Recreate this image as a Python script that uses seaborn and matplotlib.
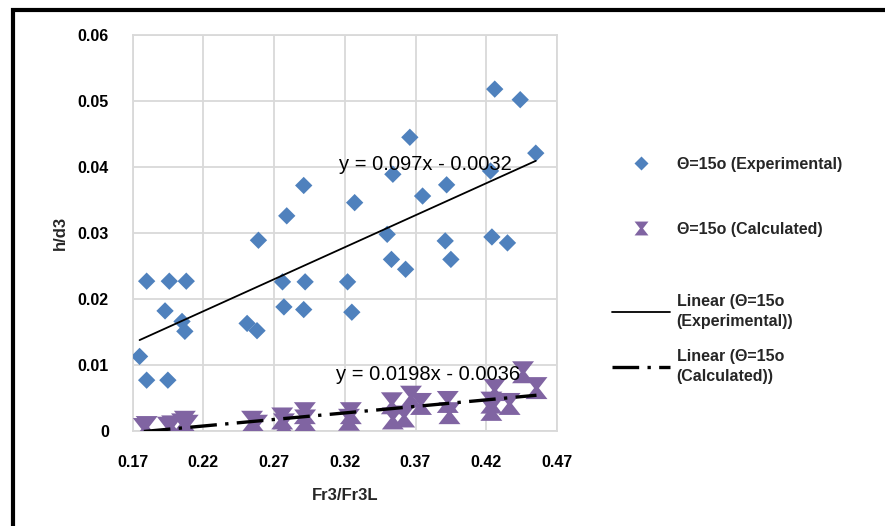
import numpy as np
import pandas as pd
import matplotlib
matplotlib.use("Agg")
import matplotlib.pyplot as plt
import seaborn as sns
from matplotlib.path import Path
from matplotlib.lines import Line2D
from matplotlib.patches import Rectangle

# ---------------- data ----------------
exp_x = [0.175, 0.180, 0.180, 0.193, 0.196, 0.195, 0.205, 0.207, 0.208, 0.251, 0.258, 0.259,
         0.276, 0.277, 0.279, 0.291, 0.292, 0.291, 0.322, 0.325, 0.327, 0.350, 0.353, 0.354,
         0.363, 0.366, 0.375, 0.391, 0.392, 0.395, 0.423, 0.424, 0.426, 0.435, 0.444, 0.455]
exp_y = [0.0113, 0.0227, 0.0077, 0.0182, 0.0227, 0.0077, 0.0166, 0.0151, 0.0227, 0.0163, 0.0152, 0.0289,
         0.0226, 0.0188, 0.0326, 0.0184, 0.0226, 0.0372, 0.0226, 0.0180, 0.0346, 0.0298, 0.0260, 0.0389,
         0.0245, 0.0445, 0.0356, 0.0288, 0.0373, 0.0260, 0.0394, 0.0294, 0.0518, 0.0285, 0.0502, 0.0421]

calc_x = [0.178, 0.180, 0.195, 0.198, 0.205, 0.207, 0.209, 0.2545, 0.258, 0.2758, 0.277, 0.2918,
          0.292, 0.323, 0.3243, 0.3533, 0.354, 0.362, 0.3668, 0.3739, 0.3928, 0.394, 0.4236, 0.4236,
          0.4259, 0.4365, 0.446, 0.4555]
calc_y = [0.0003, 0.0006, 0.0005, 0.0007, 0.0010, 0.0014, 0.0008, 0.0014, 0.0008, 0.0019, 0.0010, 0.0027,
          0.0016, 0.0017, 0.0027, 0.0042, 0.0019, 0.0022, 0.0052, 0.0041, 0.0044, 0.0027, 0.0043, 0.0032,
          0.0062, 0.0041, 0.0089, 0.0065]

exp_slope, exp_intercept = 0.097, -0.0032
calc_slope, calc_intercept = 0.0198, -0.0036

x_ticks = [0.17, 0.22, 0.27, 0.32, 0.37, 0.42, 0.47]
y_ticks = [0, 0.01, 0.02, 0.03, 0.04, 0.05, 0.06]
x_ticklabels = ["0.17", "0.22", "0.27", "0.32", "0.37", "0.42", "0.47"]
y_ticklabels = ["0", "0.01", "0.02", "0.03", "0.04", "0.05", "0.06"]

lbl_exp = "\u0398=15o (Experimental)"
lbl_calc = "\u0398=15o (Calculated)"
lbl_lin_exp = "Linear (\u0398=15o\n(Experimental))"
lbl_lin_calc = "Linear (\u0398=15o\n(Calculated))"
eq_exp = "y = 0.097x - 0.0032"
eq_calc = "y = 0.0198x - 0.0036"

# ---------------- style ----------------
sns.set_theme(style="white")
plt.rcParams['font.family'] = ['Liberation Sans', 'DejaVu Sans']

BLUE = "#4F81BD"
PURPLE = "#8064A2"
DASHDOT = (0, (8, 2.5, 1, 2.5))

W, H = 885, 526
fig = plt.figure(figsize=(W / 100, H / 100), dpi=100)
ax = fig.add_axes([132.5 / W, 1 - 431 / H, (557 - 132.5) / W, (431 - 35) / H])

hourglass = Path([(-1, 1), (1, 1), (0.22, 0), (1, -1), (-1, -1), (-0.22, 0), (-1, 1)],
                 [Path.MOVETO, Path.LINETO, Path.LINETO, Path.LINETO, Path.LINETO, Path.LINETO, Path.CLOSEPOLY])

df_exp = pd.DataFrame({"x": exp_x, "y": exp_y})
df_calc = pd.DataFrame({"x": calc_x, "y": calc_y})

sns.scatterplot(data=df_exp, x="x", y="y", marker="D", s=78, color=BLUE, edgecolor="none",
                ax=ax, zorder=3, legend=False)
sns.scatterplot(data=df_calc, x="x", y="y", marker=hourglass, s=250, color=PURPLE, edgecolor="none",
                ax=ax, zorder=3, legend=False)

# trend lines
xe = np.array([min(exp_x), max(exp_x)])
xc = np.array([min(calc_x), max(calc_x)])
df_le = pd.DataFrame({"x": xe, "y": exp_slope * xe + exp_intercept})
df_lc = pd.DataFrame({"x": xc, "y": calc_slope * xc + calc_intercept})
sns.lineplot(data=df_le, x="x", y="y", color="black", lw=1.3, ax=ax, zorder=4)
sns.lineplot(data=df_lc, x="x", y="y", color="black", lw=2.4, ax=ax, zorder=4,
             dashes=False, linestyle=DASHDOT)

ax.text(425 / W, 1 - 164 / H, eq_exp, transform=fig.transFigure, ha="center", va="center",
        fontsize=14.5, color="black", zorder=5)
ax.text(428 / W, 1 - 375 / H, eq_calc, transform=fig.transFigure, ha="center", va="center",
        fontsize=14.5, color="black", zorder=5)

ax.set_xlim(0.17, 0.47)
ax.set_ylim(0, 0.06)
ax.set_xticks(x_ticks)
ax.set_xticklabels(x_ticklabels, fontsize=11.5, fontweight="bold")
ax.set_yticks(y_ticks)
ax.set_yticklabels(y_ticklabels, fontsize=11.5, fontweight="bold")
ax.tick_params(axis="x", length=0, pad=17, colors="black")
ax.tick_params(axis="y", length=0, pad=17, colors="black")
ax.grid(True, color="#d9d9d9", lw=1.3)
ax.set_axisbelow(True)
for s in ax.spines.values():
    s.set_color("#d9d9d9")
    s.set_linewidth(1.3)

ax.set_xlabel("Fr3/Fr3L", fontsize=12, fontweight="bold", labelpad=13)
ax.set_ylabel("h/d3", fontsize=12, fontweight="bold", labelpad=7)

# legends (markers, then trend lines)
prop = {"weight": "bold", "size": 11.5}
handles1 = [
    Line2D([], [], marker="D", ls="none", color=BLUE, markersize=7.5, markeredgecolor="none"),
    Line2D([], [], marker=hourglass, ls="none", color=PURPLE, markersize=10, markeredgecolor="none"),
]
leg1 = fig.legend(handles1, [lbl_exp, lbl_calc],
                  loc="upper left", bbox_to_anchor=(612 / W, 1 - 157 / H),
                  frameon=False, handlelength=3.6, handletextpad=0.45, labelspacing=3.1,
                  borderpad=0, borderaxespad=0, prop=prop)
handles2 = [
    Line2D([], [], color="black", lw=1.3),
    Line2D([], [], color="black", lw=2.4, linestyle=DASHDOT),
]
leg2 = fig.legend(handles2, [lbl_lin_exp, lbl_lin_calc],
                  loc="upper left", bbox_to_anchor=(612 / W, 1 - 294 / H),
                  frameon=False, handlelength=3.6, handletextpad=0.45, labelspacing=1.25,
                  borderpad=0, borderaxespad=0, prop=prop)
for t in leg2.get_texts():
    t.set_linespacing(1.42)

# outer frame (cut at right and bottom)
fig.patches.append(Rectangle((13 / W, -0.5), 2.0, 1.5 - 10 / H, transform=fig.transFigure,
                             fill=False, edgecolor="black", lw=3, zorder=10))

fig.savefig("out.png", dpi=100)
